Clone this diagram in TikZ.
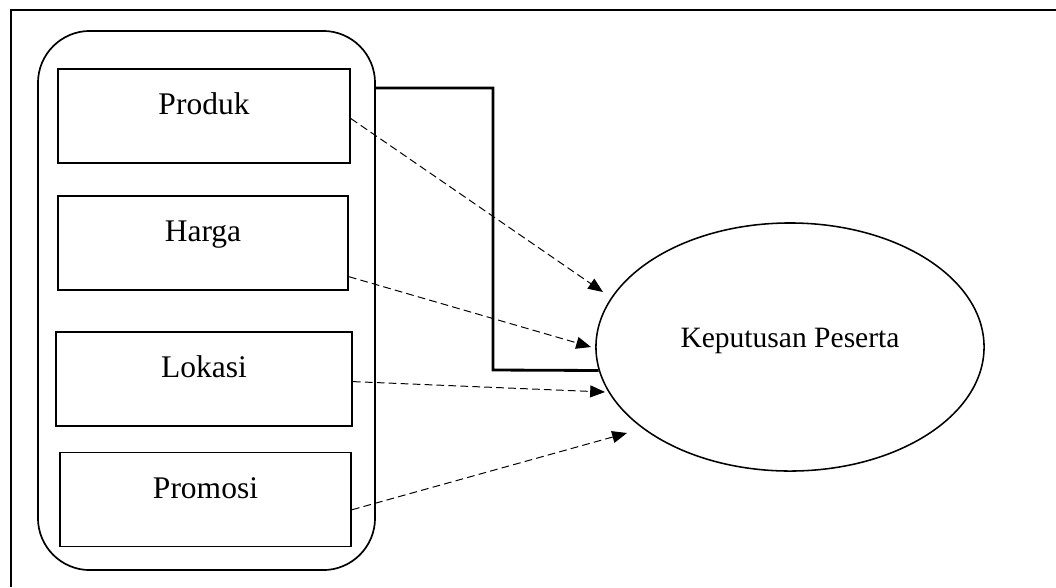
\documentclass[tikz,border=0pt]{standalone}
\usepackage{fontspec}
\setmainfont{Liberation Serif}
\usetikzlibrary{shapes.geometric,arrows.meta}

\begin{document}
\begin{tikzpicture}[x=0.025cm, y=-0.025cm,
  kotak/.style={rectangle, draw, line width=1.2pt, minimum width=7.3cm, minimum height=2.35cm, text height=16pt, text depth=17.5pt, font=\fontsize{22.4}{27}\selectfont},
  panah/.style={dash pattern=on 5.5pt off 3pt, line width=0.7pt, -{Triangle[length=0.37cm, width=0.3cm]}}]
  \useasboundingbox (0,0) rectangle (1056,587);
  \draw [line width=0.8pt] (1056,10) -- (11,10) -- (11,587);
  \node [draw, line width=1.2pt, rounded corners=1.3cm, minimum width=8.425cm, minimum height=13.475cm] (grup) at (206.5,300.5) {};
  \node [kotak] (produk) at (204,116) {Produk};
  \node [kotak, minimum width=7.25cm] (harga) at (203,243) {Harga};
  \node [kotak, minimum width=7.4cm] (lokasi) at (204,379) {Lokasi};
  \node [kotak, minimum width=7.28cm] (promosi) at (205.5,499.5) {Promosi};
  \node [ellipse, draw, line width=1.1pt, minimum width=9.7cm, minimum height=6.2cm, text height=15pt, text depth=15pt, font=\fontsize{21}{25}\selectfont] (kep) at (790,347) {Keputusan Peserta};
  \coordinate (p1) at (603,292);
  \coordinate (p2) at (591,347);
  \coordinate (p3) at (605,392);
  \coordinate (p4) at (627,433);
  \draw [panah] (produk.-1) -- (p1);
  \draw [panah] (harga.-13) -- (p2);
  \draw [panah] (lokasi.-1) -- (p3);
  \draw [panah] (promosi.-4) -- (p4);
  \draw [line width=2pt] (grup.east |- 0,88) -| (493,370) -- (kep.187);
\end{tikzpicture}
\end{document}
